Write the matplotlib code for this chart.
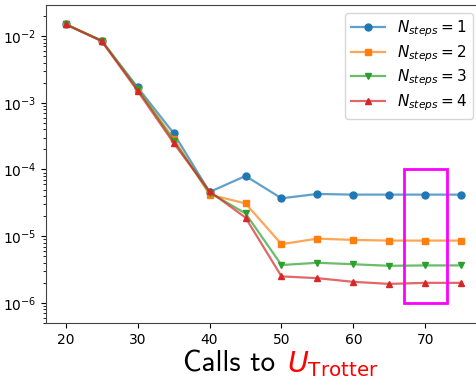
import matplotlib
matplotlib.use("Agg")
import matplotlib.pyplot as plt
from matplotlib.colors import to_rgba
from matplotlib.patches import Rectangle

# number of calls to U_Trotter
calls = [20, 25, 30, 35, 40, 45, 50, 55, 60, 65, 70, 75]

# error for each number of Trotter steps
err_1 = [1.5e-2, 8.5e-3, 1.7e-3, 3.5e-4, 4.6e-5, 8.0e-5, 3.7e-5, 4.3e-5, 4.2e-5, 4.2e-5, 4.2e-5, 4.2e-5]
err_2 = [1.5e-2, 8.5e-3, 1.6e-3, 2.9e-4, 4.2e-5, 3.1e-5, 7.6e-6, 9.2e-6, 8.8e-6, 8.6e-6, 8.6e-6, 8.6e-6]
err_3 = [1.5e-2, 8.5e-3, 1.6e-3, 2.7e-4, 4.5e-5, 2.2e-5, 3.7e-6, 4.0e-6, 3.8e-6, 3.6e-6, 3.65e-6, 3.65e-6]
err_4 = [1.5e-2, 8.4e-3, 1.5e-3, 2.5e-4, 4.7e-5, 1.9e-5, 2.5e-6, 2.35e-6, 2.07e-6, 1.93e-6, 2.0e-6, 2.0e-6]

labels = [r'$N_{steps} = 1$', r'$N_{steps} = 2$', r'$N_{steps} = 3$', r'$N_{steps} = 4$']
markers = ['o', 's', 'v', '^']
colors = ['tab:blue', 'tab:orange', 'tab:green', 'tab:red']

# highlighted region
box_x = (67, 73)
box_y = (1e-6, 1e-4)

fig = plt.figure(figsize=(4.76, 3.77), dpi=100)
ax = fig.add_axes([0.0966, 0.1432, 0.9139, 0.8435])

for errs, lab, m, c in zip([err_1, err_2, err_3, err_4], labels, markers, colors):
    # lighter line, solid markers
    ax.plot(calls, errs, marker=m, markersize=5, linewidth=1.6, label=lab,
            color=to_rgba(c, 0.7), markerfacecolor=c, markeredgecolor=c)

ax.add_patch(Rectangle((box_x[0], box_y[0]), box_x[1] - box_x[0], box_y[1] - box_y[0],
                       fill=False, edgecolor='#ff00ff', linewidth=2, zorder=5))

ax.set_yscale('log')
ax.set_ylim(5.0e-7, 2.92e-2)
ax.set_xlim(17.25, 77.75)
ax.set_xticks([20, 30, 40, 50, 60, 70])
ax.tick_params(labelsize=10)
for s in ax.spines.values():
    s.set_color('#444444')

ax.legend(loc='upper right', fontsize=11, handlelength=2.2, labelspacing=0.25)

# x label: black text followed by red symbol
fig.text(0.385, 0.014, 'Calls to', fontsize=21, family=['cmss10', 'DejaVu Sans'],
         va='baseline', ha='left')
fig.text(0.603, 0.014, r'$U_{\mathrm{Trotter}}$', fontsize=20.5, color='red',
         va='baseline', ha='left')

fig.savefig('out.png', dpi=100)
